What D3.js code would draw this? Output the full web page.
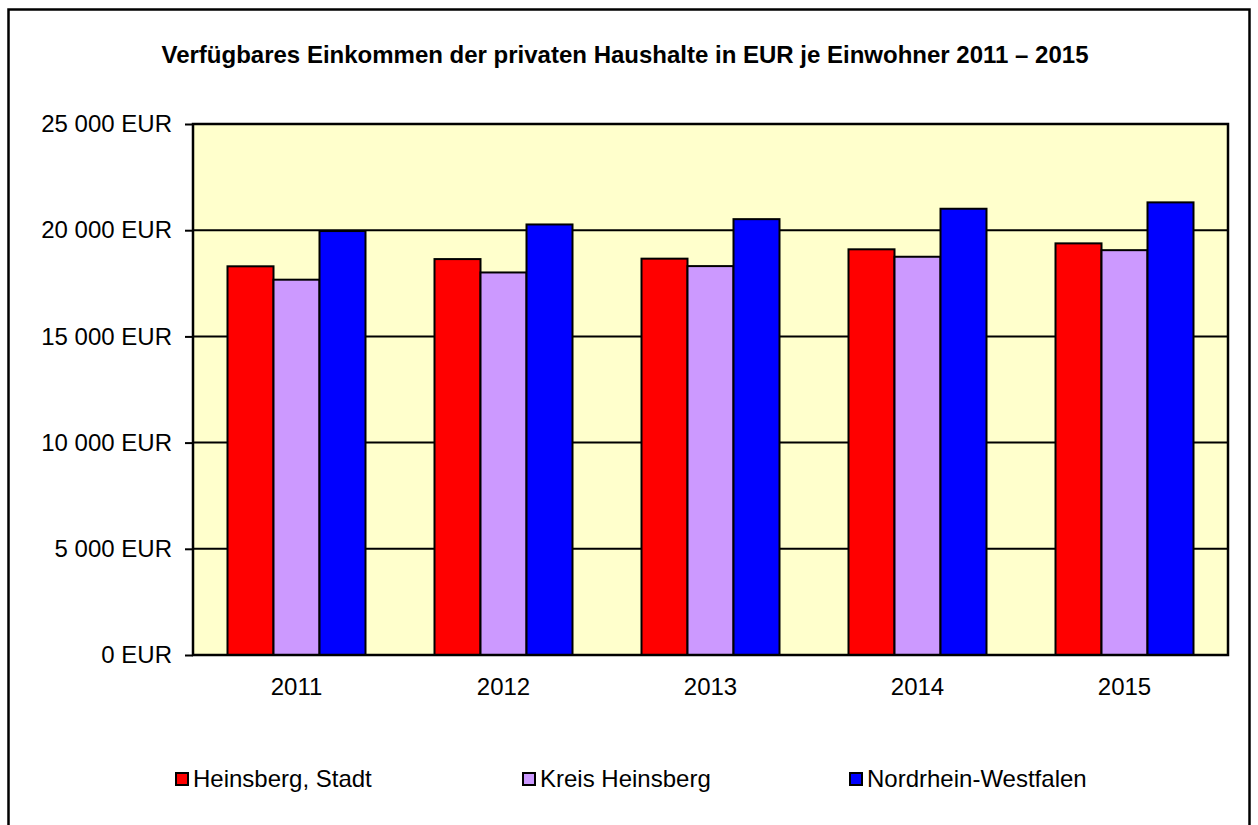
<!DOCTYPE html>
<html>
<head>
<meta charset="utf-8">
<script src="https://cdn.jsdelivr.net/npm/d3@7"></script>
<style>
  html, body { margin: 0; padding: 0; background: #fff; }
  svg { display: block; font-family: "Liberation Sans", Arial, sans-serif; }
</style>
</head>
<body>
<svg id="chart" width="1258" height="825"></svg>
<script>
const title = "Verfügbares Einkommen der privaten Haushalte in EUR je Einwohner 2011 – 2015";
const years = ["2011", "2012", "2013", "2014", "2015"];
const seriesNames = ["Heinsberg, Stadt", "Kreis Heinsberg", "Nordrhein-Westfalen"];
const seriesColors = ["#FF0000", "#CC99FF", "#0000FF"];
const heinsbergStadt = [18300, 18640, 18660, 19100, 19380];
const kreisHeinsberg = [17670, 18010, 18310, 18750, 19060];
const nrw = [19960, 20270, 20520, 21010, 21310];
const yTicks = [0, 5000, 10000, 15000, 20000, 25000];

const seriesValues = [heinsbergStadt, kreisHeinsberg, nrw];
const svg = d3.select("#chart");

// outer frame
svg.append("rect").attr("x", 8.5).attr("y", 9.5).attr("width", 1241).attr("height", 830)
  .attr("fill", "#fff").attr("stroke", "#000").attr("stroke-width", 2.5);

const pLeft = 193, pRight = 1228, pTop = 124, pBottom = 655;

const x0 = d3.scaleBand().domain(years).range([pLeft, pRight]).paddingInner(1/3).paddingOuter(1/6);
const x1 = d3.scaleBand().domain(seriesNames).range([0, x0.bandwidth()]);
const y = d3.scaleLinear().domain([0, 25000]).range([pBottom, pTop]);

// plot area
svg.append("rect").attr("x", pLeft).attr("y", pTop).attr("width", pRight - pLeft).attr("height", pBottom - pTop)
  .attr("fill", "#FFFFCC");

// gridlines
svg.append("g").selectAll("line").data(yTicks.slice(1, -1)).join("line")
  .attr("x1", pLeft).attr("x2", pRight).attr("y1", d => y(d)).attr("y2", d => y(d))
  .attr("stroke", "#000").attr("stroke-width", 2);

// bars
const groups = svg.append("g").selectAll("g").data(years).join("g")
  .attr("transform", d => `translate(${x0(d)},0)`);
groups.selectAll("rect").data((d, i) => seriesNames.map((s, k) => ({s, k, v: seriesValues[k][i]}))).join("rect")
  .attr("x", d => x1(d.s)).attr("width", x1.bandwidth())
  .attr("y", d => y(d.v)).attr("height", d => y(0) - y(d.v))
  .attr("fill", d => seriesColors[d.k]).attr("stroke", "#000").attr("stroke-width", 2);

// plot border
svg.append("rect").attr("x", pLeft).attr("y", pTop).attr("width", pRight - pLeft).attr("height", pBottom - pTop)
  .attr("fill", "none").attr("stroke", "#000").attr("stroke-width", 2.5);

// y axis
const fmt = v => d3.format(",")(v).replace(/,/g, " ") + " EUR";
const yAxis = d3.axisLeft(y).tickValues(yTicks).tickFormat(fmt).tickSize(8).tickPadding(13);
const ya = svg.append("g").attr("transform", `translate(${pLeft},0)`).call(yAxis);
ya.select(".domain").remove();
ya.selectAll("line").attr("stroke", "#000").attr("stroke-width", 2);
ya.selectAll("text").attr("font-size", 24).attr("fill", "#000")
  .attr("font-family", "'Liberation Sans', Arial, sans-serif");

// x axis
const xAxis = d3.axisBottom(x0).tickSize(0).tickPadding(23);
const xa = svg.append("g").attr("transform", `translate(0,${pBottom})`).call(xAxis);
xa.select(".domain").remove();
xa.selectAll("text").attr("font-size", 24).attr("fill", "#000")
  .attr("font-family", "'Liberation Sans', Arial, sans-serif");

// title
svg.append("text").attr("x", 625).attr("y", 63).attr("text-anchor", "middle")
  .attr("font-size", 24).attr("font-weight", "bold").text(title);

// legend
const legendX = [175, 522, 849];
const lg = svg.append("g").selectAll("g").data(seriesNames).join("g")
  .attr("transform", (d, i) => `translate(${legendX[i]},772)`);
lg.append("rect").attr("x", 1).attr("y", 1).attr("width", 12).attr("height", 12)
  .attr("fill", (d, i) => seriesColors[i]).attr("stroke", "#000").attr("stroke-width", 2);
lg.append("text").attr("x", 18).attr("y", 15).attr("font-size", 24).text(d => d);
</script>
</body>
</html>
